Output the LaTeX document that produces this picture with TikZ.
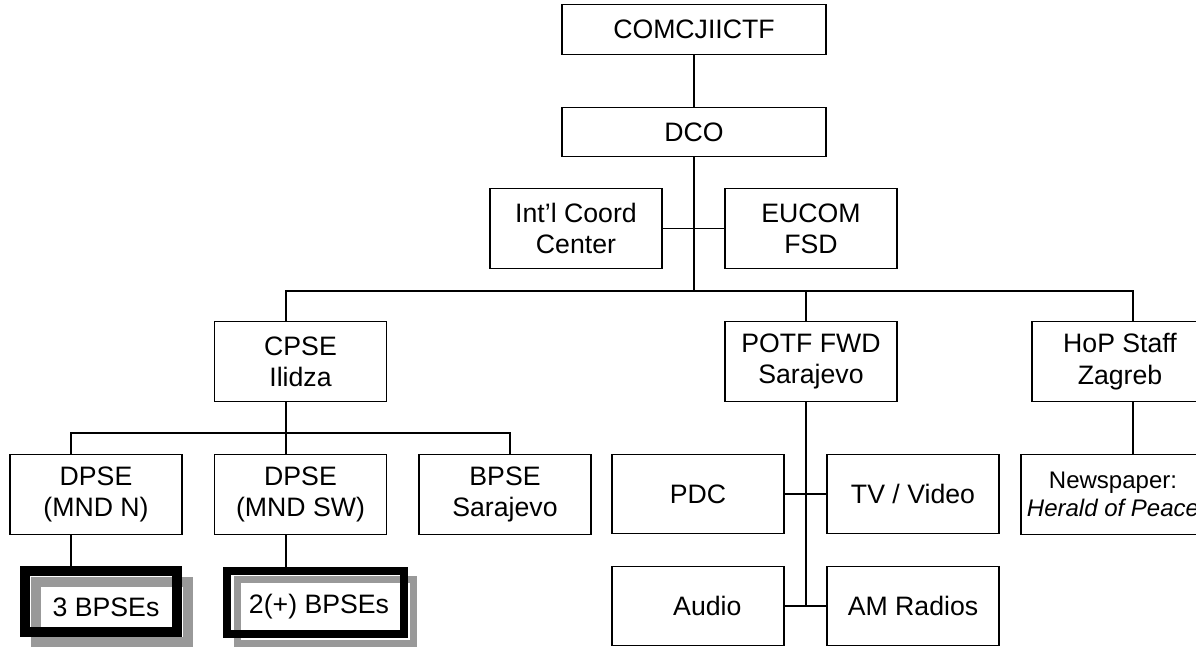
\documentclass[tikz,border=0pt]{standalone}
\usepackage{fontspec}
\setmainfont{Liberation Sans}
\usetikzlibrary{calc}

\definecolor{shade}{gray}{0.6}

\tikzset{
  unit/.style={draw, line width=0.9pt, minimum width=129pt, minimum height=59.5pt,
    inner sep=0pt, align=center, font=\fontsize{20pt}{23.5pt}\selectfont},
  wideunit/.style={unit, minimum width=198pt, minimum height=37pt},
  link/.style={line width=0.9pt},
  bframe/.style={draw=black, inner sep=0pt},
  gframe/.style={draw=shade, inner sep=0pt},
  tag/.style={inner sep=0pt, font=\fontsize{20pt}{23.5pt}\selectfont}
}

\begin{document}
\begin{tikzpicture}[x=0.75pt,y=-0.75pt]

\useasboundingbox (0,0) rectangle (1196,647);
\clip (0,0) rectangle (1196,647);

% command levels
\node[wideunit] (top) at (694,29.5) {COMCJIICTF};
\node[wideunit] (dco) at (694,132) {DCO};
\node[unit] (icc) at (576,228.5) {Int'l Coord\\Center};
\node[unit] (eucom) at (811,228.5) {EUCOM\\FSD};

% second row
\node[unit] (cpse) at (300.5,361.5) {CPSE\\Ilidza};
\node[unit] (potf) at (811,361.5) {POTF FWD\\Sarajevo};
\node[unit, minimum width=132pt] (hop) at (1120,361.5) {HoP Staff\\Zagreb};

% third row
\node[unit] (dpsen) at (96,494.5) {DPSE\\(MND N)};
\node[unit] (dpsesw) at (300.5,494.5) {DPSE\\(MND SW)};
\node[unit] (bpse) at (505,494.5) {BPSE\\Sarajevo};
\node[unit] (pdc) at (698,494) {PDC};
\node[unit] (tv) at (913,494) {TV / Video};
\node[unit, minimum width=138pt, font=\fontsize{18pt}{20.5pt}\selectfont] (news) at (1113,494.5)
  {Newspaper:\\\textit{Herald of Peace}};
\node[unit] (audio) at (698,606) {\hspace{14pt}Audio};
\node[unit] (am) at (913,606) {AM Radios};

% battalion teams
\node[gframe, line width=7.5pt, minimum width=114pt, minimum height=45pt] (bp3s) at (111.5,612) {};
\node[bframe, line width=7.5pt, minimum width=114pt, minimum height=45.75pt] (bp3) at (101,601.5) {};
\node[tag] (bp3t) at (106,607) {3 BPSEs};
\node[gframe, line width=5.25pt, minimum width=132pt, minimum height=48pt] (bp2s) at (325.5,611.5) {};
\node[bframe, line width=6pt, minimum width=132.75pt, minimum height=47.25pt] (bp2) at (315.5,602.5) {};
\node[tag] (bp2t) at (319,607) {2(+) BPSEs};

\coordinate (busw) at (286,291);
\coordinate (buse) at (1133,291);
\coordinate (potfx) at (806,291);
\coordinate (subw) at (71,433);
\coordinate (sube) at (510,433);

\draw[link] (top) -- (dco);
\draw[link] (dco) -- (dco |- busw);
\draw[link] (icc) -- (eucom);
\draw[link] (cpse.north -| busw) -- (busw) -- (buse) -- (hop.north -| buse);
\draw[link] (potfx) -- (potf.north -| potfx);
\draw[link] (potf.south -| potfx) -- (potfx |- am);
\draw[link] (pdc) -- (tv);
\draw[link] (audio) -- (am);
\draw[link] (hop.south -| buse) -- (news.north -| buse);
\draw[link] (cpse.south -| busw) -- (dpsesw.north -| busw);
\draw[link] (dpsen.north -| subw) -- (subw) -- (sube) -- (bpse.north -| sube);
\draw[link] (dpsen.south -| subw) -- (bp3.north -| subw);
\draw[link] (dpsesw.south -| busw) -- (bp2.north -| busw);

\end{tikzpicture}
\end{document}
